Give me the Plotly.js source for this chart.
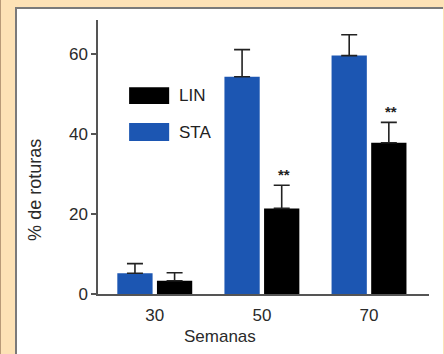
<!DOCTYPE html>
<html><head><meta charset="utf-8">
<script src="https://cdn.plot.ly/plotly-3.0.1.min.js"></script>
<style>
html,body{margin:0;padding:0;}
body{width:444px;height:354px;background:#fde2b6;position:relative;overflow:hidden;border-left:1px solid #b89a78;box-sizing:border-box;}
#wrap{position:absolute;left:14px;top:7px;width:426px;height:347px;border-left:2px solid #7a7a7a;border-top:2px solid #7a7a7a;background:#fff;}
#chart{position:absolute;left:0;top:0;width:424px;height:345px;}
</style></head><body>
<div id="wrap"><div id="chart"></div></div>
<script>
const categories = ['30', '50', '70'];
const staValues = [5.2, 54.3, 59.6];
const staErrors = [2.4, 6.8, 5.2];
const linValues = [3.3, 21.4, 37.8];
const linErrors = [2.0, 5.8, 5.1];
const linSignif = ['', '**', '**'];
const yTicks = [0, 20, 40, 60];

const font = 'Liberation Sans, Arial, sans-serif';
const blue = '#1c56b2';
const txt = '#2a2a2a';

const traces = [
  {type:'bar', name:'STA', x:categories, y:staValues, marker:{color:blue},
   error_y:{type:'data', array:staErrors, arrayminus:staErrors.map(()=>0), symmetric:false, color:'#222', thickness:1.6, width:8}},
  {type:'bar', name:'LIN', x:categories, y:linValues, marker:{color:'#000'},
   error_y:{type:'data', array:linErrors, arrayminus:linErrors.map(()=>0), symmetric:false, color:'#222', thickness:1.6, width:8}}
];

const annotations = [];
categories.forEach((c,i)=>{
  if(linSignif[i]) annotations.push({x:i, y:linValues[i]+linErrors[i], xref:'x', yref:'y', text:'<b>'+linSignif[i]+'</b>', showarrow:false, xanchor:'center', yanchor:'bottom', xshift:22, yshift:0, font:{family:font, size:15, color:'#222'}});
});
annotations.push({xref:'paper', yref:'paper', x:0, y:0.38, xanchor:'center', yanchor:'middle', xshift:-63, text:'% de roturas', textangle:-90, showarrow:false, font:{family:font, size:18, color:txt}});
annotations.push({xref:'paper', yref:'paper', x:0.369, y:0, yshift:-42, xanchor:'center', yanchor:'middle', text:'Semanas', showarrow:false, font:{family:font, size:17, color:txt}});
annotations.push({xref:'paper', yref:'paper', x:0.24, y:0.724, xanchor:'left', yanchor:'middle', text:'LIN', showarrow:false, font:{family:font, size:17, color:'#222'}});
annotations.push({xref:'paper', yref:'paper', x:0.24, y:0.591, xanchor:'left', yanchor:'middle', text:'STA', showarrow:false, font:{family:font, size:17, color:'#222'}});

const shapes = [
  {type:'rect', xref:'paper', yref:'paper', x0:0.094, x1:0.215, y0:0.693, y1:0.755, fillcolor:'#000', line:{width:0}},
  {type:'rect', xref:'paper', yref:'paper', x0:0.094, x1:0.215, y0:0.558, y1:0.624, fillcolor:blue, line:{width:0}}
];

const layout = {
  width:424, height:345,
  margin:{l:81, r:12, t:11, b:60},
  paper_bgcolor:'#fff', plot_bgcolor:'#fff',
  showlegend:false,
  barmode:'group', bargap:0.26, bargroupgap:0.11,
  font:{family:font, color:txt},
  xaxis:{type:'category', range:[-0.53, 2.56], showline:true, linecolor:'#555', linewidth:1.6,
    ticks:'', ticklabelstandoff:5, tickfont:{size:17, color:txt}, showgrid:false, zeroline:false, fixedrange:true},
  yaxis:{range:[0, 68.5], tickvals:yTicks, showline:true, linecolor:'#555', linewidth:1.6,
    ticks:'outside', ticklen:5, tickcolor:'#555', tickwidth:1.2, tickfont:{size:17, color:txt},
    showgrid:false, zeroline:false, fixedrange:true},
  annotations:annotations, shapes:shapes
};
Plotly.newPlot('chart', traces, layout, {displayModeBar:false, staticPlot:true});
</script></body></html>
